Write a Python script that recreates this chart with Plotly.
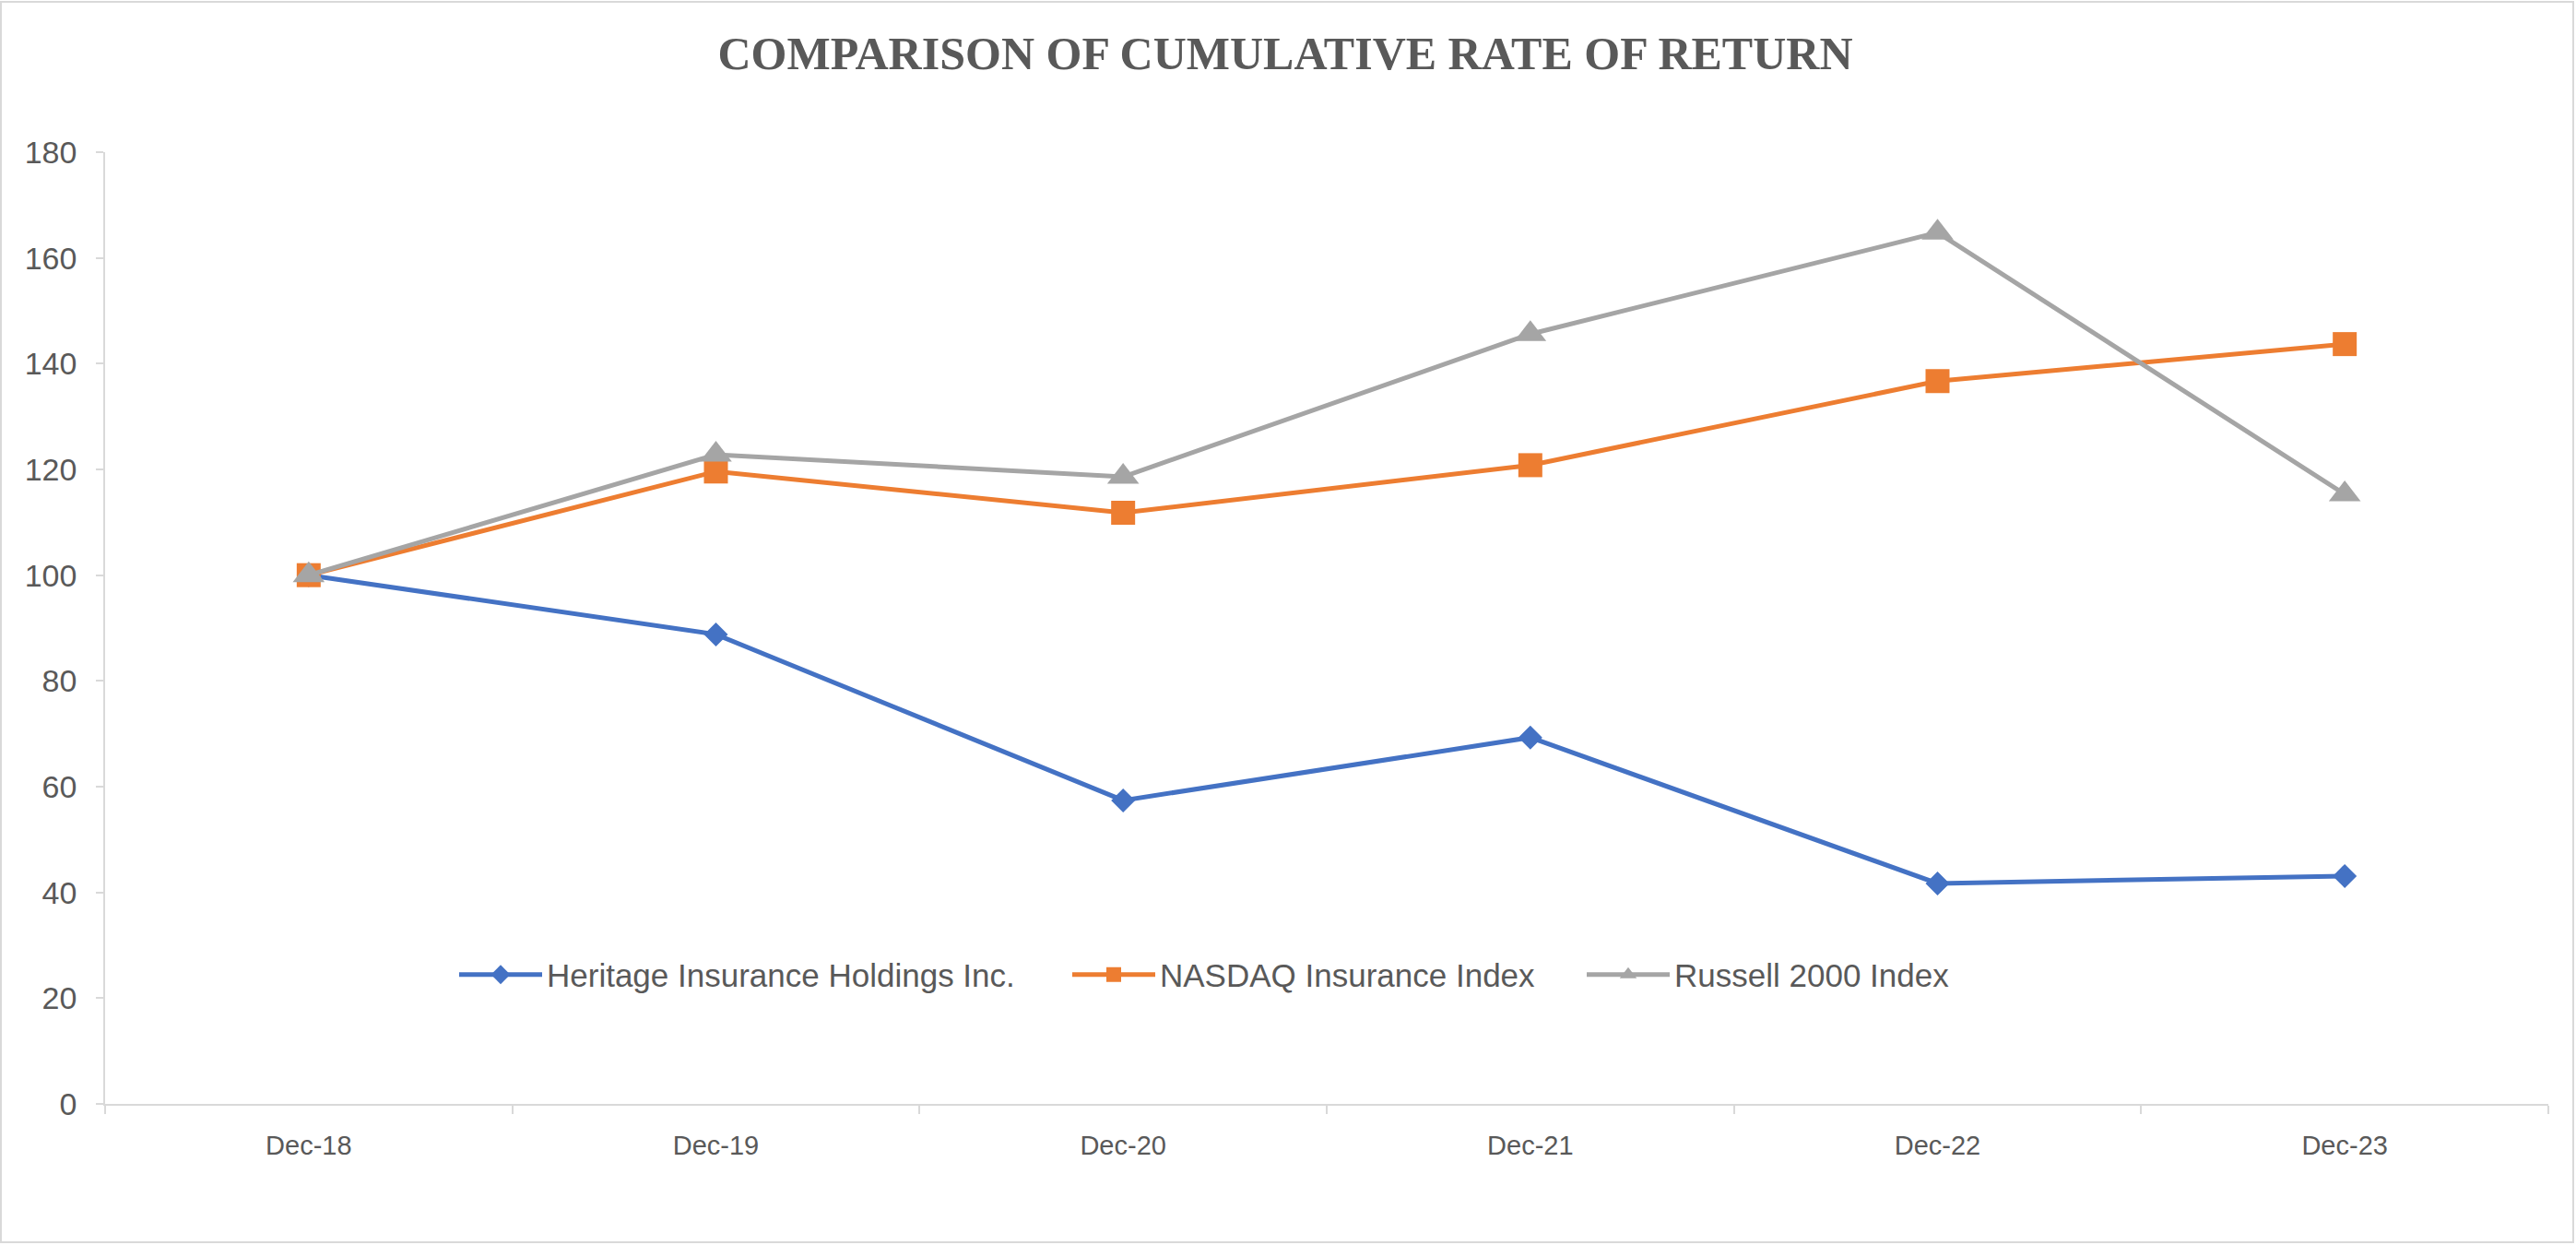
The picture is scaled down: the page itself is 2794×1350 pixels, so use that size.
import plotly.graph_objects as go

categories = ["Dec-18", "Dec-19", "Dec-20", "Dec-21", "Dec-22", "Dec-23"]
heritage = [100, 88.8, 57.4, 69.3, 41.7, 43.1]
nasdaq = [100, 119.6, 111.8, 120.8, 136.7, 143.7]
russell = [100, 122.8, 118.6, 145.6, 164.8, 115.3]
series_names = ["Heritage Insurance Holdings Inc.", "NASDAQ Insurance Index", "Russell 2000 Index"]
y_ticks = [0, 20, 40, 60, 80, 100, 120, 140, 160, 180]

W, H = 2794, 1350
PLOT_L, PLOT_R, PLOT_T, PLOT_B = 114, 2764, 165, 1197  # page pixel positions
L, R, T, B = PLOT_L, W - PLOT_R, PLOT_T, H - PLOT_B
PW, PH = W - L - R, H - T - B

TEXT = "#595959"
AXIS = "#D9D9D9"
FONT = "Liberation Sans, Arial, sans-serif"


def px2x(px):
    return (px - PLOT_L) / PW


def px2y(py):
    return (PLOT_B - py) / PH


fig = go.Figure()
styles = [
    (heritage, "#4472C4", "diamond", 20, "legend", 500),
    (nasdaq, "#ED7D31", "square", 26, "legend2", 1165),
    (russell, "#A5A5A5", "triangle-up", 30, "legend3", 1723),
]
legend_layout = {}
for (vals, col, sym, sz, lg, lx), name in zip(styles, series_names):
    fig.add_trace(go.Scatter(
        x=categories, y=vals, name=name, mode="lines+markers",
        line=dict(color=col, width=5),
        marker=dict(symbol=sym, size=sz, color=col, line=dict(width=0)),
        legend=lg,
    ))
    legend_layout[lg] = dict(
        orientation="h", x=px2x(lx - 7), xanchor="left",
        y=px2y(1057), yanchor="middle",
        font=dict(family=FONT, size=35, color=TEXT),
        itemwidth=90, bgcolor="rgba(0,0,0,0)",
    )

fig.add_shape(type="rect", xref="paper", yref="paper",
              x0=px2x(1), x1=px2x(W - 3), y0=px2y(H - 3), y1=px2y(2),
              line=dict(color=AXIS, width=2), fillcolor="rgba(0,0,0,0)", layer="below")

fig.update_layout(
    width=W, height=H,
    margin=dict(l=L, r=R, t=T, b=B, pad=0),
    paper_bgcolor="white", plot_bgcolor="white",
    title=dict(text="<b>COMPARISON OF CUMULATIVE RATE OF RETURN</b>",
               font=dict(family="Liberation Serif, Times New Roman, serif", size=50, color=TEXT),
               x=1394 / W, xref="container", xanchor="center",
               y=1 - 57 / H, yref="container", yanchor="middle"),
    showlegend=True,
    xaxis=dict(type="category", range=[-0.5, 5.5], showgrid=False, zeroline=False,
               showline=True, linecolor=AXIS, linewidth=2,
               ticks="outside", tickson="boundaries", ticklen=9, tickcolor=AXIS, tickwidth=1.5,
               tickfont=dict(family=FONT, size=29, color=TEXT), ticklabelstandoff=18),
    yaxis=dict(range=[0, 180], tickvals=y_ticks, showgrid=False, zeroline=False,
               showline=True, linecolor=AXIS, linewidth=1.5,
               ticks="outside", ticklen=8, tickcolor=AXIS, tickwidth=1.5,
               tickfont=dict(family=FONT, size=34, color=TEXT), ticklabelstandoff=14),
    **legend_layout,
)

fig.write_html("out.html",
               config={"displayModeBar": False},
               post_script="document.body.style.margin='0px';document.body.style.overflow='hidden';")
